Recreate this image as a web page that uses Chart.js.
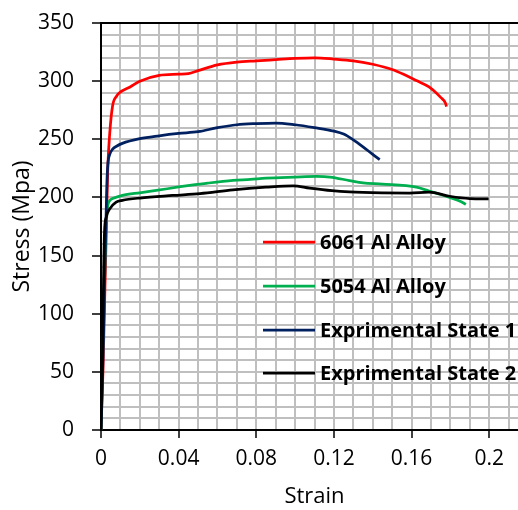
<!DOCTYPE html>
<html>
<head>
<meta charset="utf-8">
<script src="https://cdn.jsdelivr.net/npm/chart.js@4.4.1/dist/chart.umd.min.js"></script>
<style>
  html, body { margin: 0; padding: 0; background: #fff; overflow: hidden; }
  #wrap { width: 518px; height: 510px; overflow: hidden; }
</style>
</head>
<body>
<div id="wrap"><canvas id="c" width="540" height="510"></canvas></div>
<script>
// ---- data ----
const seriesNames = ['6061 Al Alloy', '5054 Al Alloy', 'Exprimental State 1', 'Exprimental State 2'];

const strain6061 = [0, 0.001, 0.002, 0.003, 0.0035, 0.0045, 0.006, 0.008, 0.0095, 0.015, 0.02, 0.03, 0.04, 0.045, 0.05, 0.06, 0.07, 0.08, 0.09, 0.1, 0.11, 0.12, 0.13, 0.14, 0.15, 0.157, 0.1625, 0.169, 0.175, 0.1775, 0.178];
const stress6061 = [0, 50, 120, 190, 225, 255, 279, 287, 290, 295, 300, 305, 306, 306.5, 309, 314, 316.4, 317.5, 318.5, 319.5, 320, 319, 317.5, 314.5, 310, 305, 300.5, 295, 286, 281, 278];

const strain5054 = [0, 0.001, 0.002, 0.003, 0.0044, 0.006, 0.011, 0.02, 0.0285, 0.04, 0.0456, 0.055, 0.068, 0.077, 0.085, 0.1, 0.111, 0.118, 0.128, 0.135, 0.145, 0.1625, 0.169, 0.175, 0.1796, 0.185, 0.188];
const stress5054 = [0, 70, 140, 185, 197, 199, 201.7, 204, 206, 209, 210.3, 212.3, 214.6, 215.5, 216.6, 217.5, 218, 217.5, 214.5, 212.5, 211.5, 208.8, 205.5, 202.5, 200, 196.8, 194];

const strainExp1 = [0, 0.001, 0.002, 0.003, 0.0035, 0.0045, 0.006, 0.008, 0.011, 0.02, 0.03, 0.04, 0.05, 0.06, 0.07, 0.08, 0.09, 0.1, 0.11, 0.12, 0.125, 0.13, 0.135, 0.14, 0.1436];
const stressExp1 = [0, 60, 140, 210, 228, 237, 241.5, 244, 246.5, 250.5, 253, 255, 256.5, 260, 262.5, 263.5, 264, 262.5, 260, 257, 254.5, 249.5, 243.5, 237, 232.5];

const strainExp2 = [0, 0.0005, 0.001, 0.0013, 0.0018, 0.0027, 0.0044, 0.0078, 0.011, 0.02, 0.037, 0.051, 0.068, 0.085, 0.099, 0.1075, 0.119, 0.128, 0.1455, 0.159, 0.169, 0.1796, 0.19, 0.1997];
const stressExp2 = [0, 40, 90, 128, 170, 183, 190, 196, 197.5, 199.5, 201.7, 203.3, 206.5, 208.8, 210, 208, 205.8, 204.8, 204, 203.8, 204.5, 201, 199, 198.8];

const xTickLabels = ['0', '0.04', '0.08', '0.12', '0.16', '0.2'];
const yTickLabels = ['0', '50', '100', '150', '200', '250', '300', '350'];

const seriesColors = ['#ff0000', '#00b050', '#002060', '#000000'];
// -------------------------------------

const FONT = '"Open Sans"';
function pts(xs, ys) { return xs.map((x, i) => ({ x: x, y: ys[i] })); }
const seriesData = [pts(strain6061, stress6061), pts(strain5054, stress5054), pts(strainExp1, stressExp1), pts(strainExp2, stressExp2)];

const datasets = seriesData.map((d, i) => ({
  label: seriesNames[i],
  data: d,
  borderColor: seriesColors[i],
  backgroundColor: seriesColors[i],
  borderWidth: 2.75,
  pointRadius: 0,
  showLine: true,
  fill: false,
  cubicInterpolationMode: 'monotone',
  order: 3 - i
}));

const legendPlugin = {
  id: 'insideLegend',
  afterDatasetsDraw(chart) {
    const ctx = chart.ctx;
    ctx.save();
    ctx.font = 'bold 20px ' + FONT;
    ctx.textBaseline = 'middle';
    ctx.textAlign = 'left';
    const rows = [242, 286, 330, 373];
    seriesNames.forEach((name, i) => {
      const y = rows[i];
      ctx.strokeStyle = seriesColors[i];
      ctx.lineWidth = 2.75;
      ctx.beginPath();
      ctx.moveTo(263, y);
      ctx.lineTo(315, y);
      ctx.stroke();
      ctx.fillStyle = '#000';
      ctx.fillText(name, 320, y + 1);
    });
    ctx.restore();
  }
};

new Chart(document.getElementById('c'), {
  type: 'scatter',
  data: { datasets: datasets },
  plugins: [legendPlugin],
  options: {
    responsive: false,
    animation: false,
    events: [],
    layout: { padding: { top: 23, right: 12, bottom: 0, left: 0 } },
    plugins: { legend: { display: false }, tooltip: { enabled: false } },
    scales: {
      x: {
        type: 'linear',
        min: 0, max: 0.22,
        afterFit(s) { s.height = 80; s.paddingLeft = 0; s.paddingRight = 0; },
        ticks: {
          stepSize: 0.01, autoSkip: false, maxTicksLimit: 100, maxRotation: 0,
          padding: 8,
          color: '#000',
          font: { family: FONT, size: 21 },
          callback(v) { const i = Math.round(v * 100); return (i % 4 === 0 && i / 4 < xTickLabels.length) ? xTickLabels[i / 4] : ''; }
        },
        grid: {
          color: '#bfbfbf', lineWidth: 2, tickLength: 8,
          tickColor(c) { const i = Math.round(c.tick.value * 100); return i % 4 === 0 ? '#000' : 'rgba(0,0,0,0)'; },
          tickWidth: 1.5
        },
        border: { color: '#000', width: 2 },
        title: { display: true, text: 'Strain', color: '#000', font: { family: FONT, size: 22 }, padding: { top: 0, bottom: 0 } }
      },
      y: {
        type: 'linear',
        min: 0, max: 350,
        afterFit(s) { s.width = 101; s.paddingTop = 0; s.paddingBottom = 0; },
        ticks: {
          stepSize: 10, autoSkip: false, maxTicksLimit: 100,
          padding: 18,
          color: '#000',
          font: { family: FONT, size: 21 },
          callback(v) { const i = Math.round(v); return (i % 50 === 0) ? yTickLabels[i / 50] : ''; }
        },
        grid: {
          color(c) { return Math.round(c.tick.value) === 350 ? '#000' : '#bfbfbf'; },
          lineWidth: 2, tickLength: 9,
          tickColor(c) { return Math.round(c.tick.value) % 50 === 0 ? '#000' : 'rgba(0,0,0,0)'; },
          tickWidth: 1.5
        },
        border: { color: '#000', width: 2 },
        title: { display: true, text: 'Stress (Mpa)', color: '#000', font: { family: FONT, size: 23 }, padding: { top: 9, bottom: 0 } }
      }
    }
  }
});
</script>
</body>
</html>
